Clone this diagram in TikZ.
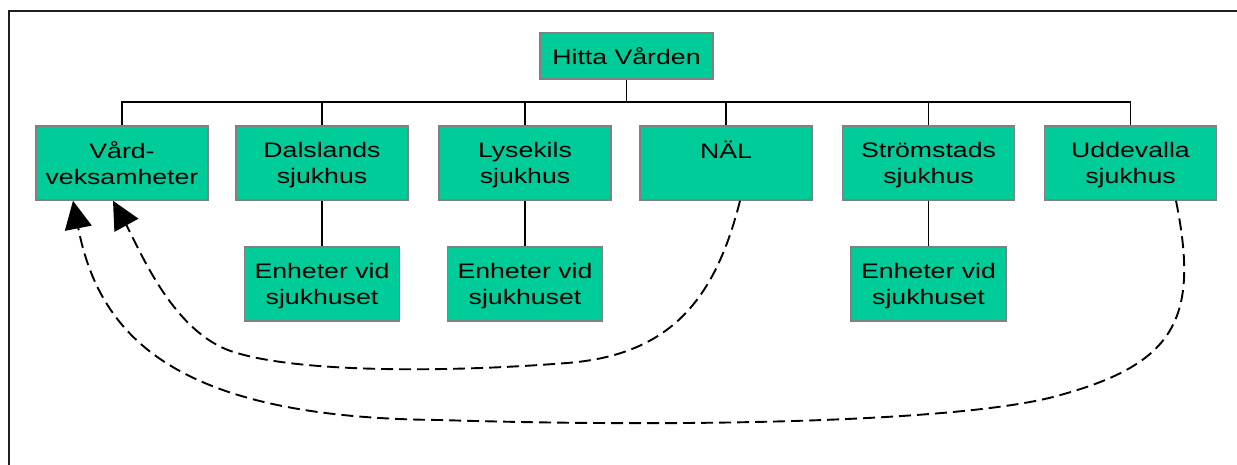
\documentclass[tikz,border=0pt]{standalone}
\usepackage{fontspec}
\newfontfamily\boxfont{Liberation Sans}[FakeStretch=1.27]
\usetikzlibrary{arrows.meta}
\definecolor{boxgreen}{RGB}{0,204,153}
\definecolor{boxborder}{RGB}{128,128,128}
\definecolor{framecol}{RGB}{30,30,30}
\tikzset{
  orgbox/.style={draw=boxborder, line width=1.5pt, fill=boxgreen, inner sep=0pt,
    minimum width=172pt, minimum height=74pt, align=center,
    font=\boxfont\fontsize{21}{26.7}\selectfont},
  childbox/.style={orgbox, minimum width=155pt},
  topbox/.style={orgbox, minimum width=173pt, minimum height=46pt},
  link/.style={line width=1.7pt, black},
  backlink/.style={line width=1.9pt, black, dash pattern=on 12pt off 6pt,
    -{Triangle[length=28pt,width=27pt]}}
}
\begin{document}
\begin{tikzpicture}[x=1pt,y=-1pt]
\useasboundingbox (0,0) rectangle (1237,465);
\draw[line width=1.5pt, framecol] (9,465) -- (9,11) -- (1237,11);

\node[topbox] (hitta) at (626.5,56) {Hitta Vården};
\node[orgbox] (vard) at (122,163) {Vård-\\veksamheter};
\node[orgbox] (dal) at (322,163) {Dalslands\\\smash{sjukhus}};
\node[orgbox] (lys) at (525,163) {Lysekils\\\smash{sjukhus}};
\node[orgbox] (nal) at (726,163) {NÄL\\\mbox{}};
\node[orgbox] (str) at (928.5,163) {Strömstads\\\smash{sjukhus}};
\node[orgbox] (udd) at (1130.5,163) {Uddevalla\\\smash{sjukhus}};
\node[childbox] (dalc) at (322,284) {Enheter vid\\\smash{sjukhuset}};
\node[childbox] (lysc) at (525,284) {Enheter vid\\\smash{sjukhuset}};
\node[childbox] (strc) at (928.5,284) {Enheter vid\\\smash{sjukhuset}};

\coordinate (bus) at (0,102);
\draw[link] (hitta.south) -- (hitta.south |- bus);
\draw[link] (vard.north) -- (vard.north |- bus) -- (udd.north |- bus) -- (udd.north);
\foreach \n in {dal,lys,nal,str} \draw[link] (\n.north) -- (\n.north |- bus);
\draw[link] (dal.south) -- (dalc.north);
\draw[link] (lys.south) -- (lysc.north);
\draw[link] (str.south) -- (strc.north);

\draw[backlink] ([xshift=14pt]nal.south) .. controls (715,300) and (670,355) .. (567,363)
  .. controls (440,373) and (300,372) .. (237,353)
  .. controls (174,336) and (140,250) .. ([xshift=-9pt]vard.south);
\draw[backlink] ([xshift=45.5pt]udd.south) .. controls (1200,320) and (1175,365) .. (1053,397)
  .. controls (960,421) and (700,428) .. (440,420)
  .. controls (180,418) and (100,340) .. ([xshift=-49pt]vard.south);
\end{tikzpicture}
\end{document}
